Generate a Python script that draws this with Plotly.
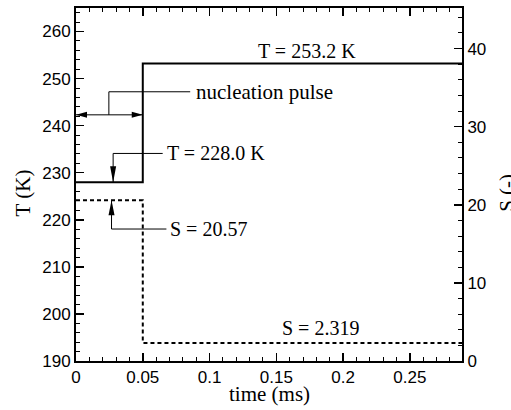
import plotly.graph_objects as go

# ---- data ----
t_T = [0.0, 0.05, 0.05, 0.289]
T_vals = [228.0, 228.0, 253.2, 253.2]
t_S = [0.0, 0.05, 0.05, 0.289]
S_vals = [20.57, 20.57, 2.319, 2.319]

x_tickvals = [0, 0.05, 0.1, 0.15, 0.2, 0.25]
x_ticktext = ["0", "0.05", "0.1", "0.15", "0.2", "0.25"]
T_tickvals = [190, 200, 210, 220, 230, 240, 250, 260]
S_tickvals = [0, 10, 20, 30, 40]

x_range = [0, 0.289]
T_range = [190, 265]
S_range = [0, 45.2]

# annotation anchors (data coords)
pulse_y = 242.3
pulse_leader = [(0.0246, 242.3), (0.0246, 247.2), (0.0855, 247.2)]
T1_leader = [(0.0278, 228.0), (0.0278, 234.1), (0.0649, 234.1)]
S1_leader = [(0.0266, 20.57), (0.0266, 16.9), (0.0677, 16.9)]

SERIF = "Liberation Serif, Times New Roman, serif"
SANS = "Liberation Sans, Arial, sans-serif"

fig = go.Figure()
fig.add_trace(go.Scatter(x=t_T, y=T_vals, mode="lines",
                         line=dict(color="black", width=2), showlegend=False, hoverinfo="skip"))
fig.add_trace(go.Scatter(x=t_S, y=S_vals, mode="lines", yaxis="y2",
                         line=dict(color="black", width=2, dash="4px,3px"), showlegend=False, hoverinfo="skip"))

def leader(pts, yaxis="y"):
    fig.add_trace(go.Scatter(x=[p[0] for p in pts], y=[p[1] for p in pts], mode="lines", yaxis=yaxis,
                             line=dict(color="black", width=1), showlegend=False, hoverinfo="skip"))

leader([(0.0, pulse_y), (0.05, pulse_y)])
leader(pulse_leader)
leader(T1_leader)
leader(S1_leader, "y2")

shapes = []
def head(x, y, path, yref="y"):
    shapes.append(dict(type="path", xref="x", yref=yref, xsizemode="pixel", ysizemode="pixel",
                       xanchor=x, yanchor=y, path=path, fillcolor="black", line=dict(width=0)))

head(0.0, pulse_y, "M0,0 L11,3 L11,-3 Z")
head(0.05, pulse_y, "M0,0 L-11,3 L-11,-3 Z")
head(T1_leader[0][0], T1_leader[0][1], "M0,0 L-3,16 L3,16 Z")
head(S1_leader[0][0], S1_leader[0][1], "M0,0 L-3,-15 L3,-15 Z", yref="y2")

ann_font = dict(family=SERIF, size=20, color="black")
title_font = dict(family=SERIF, size=21, color="black")
annotations = [
    dict(x=pulse_leader[-1][0], y=pulse_leader[-1][1], xref="x", yref="y", text="nucleation pulse",
         showarrow=False, xanchor="left", yanchor="middle", xshift=4,
         font=dict(family=SERIF, size=21, color="black")),
    dict(x=T1_leader[-1][0], y=T1_leader[-1][1], xref="x", yref="y", text="T = 228.0 K",
         showarrow=False, xanchor="left", yanchor="middle", xshift=2, font=ann_font),
    dict(x=S1_leader[-1][0], y=S1_leader[-1][1], xref="x", yref="y2", text="S = 20.57",
         showarrow=False, xanchor="left", yanchor="middle", xshift=2, font=ann_font),
    dict(x=0.173, y=255.9, xref="x", yref="y", text="T = 253.2 K",
         showarrow=False, xanchor="center", yanchor="middle", font=ann_font),
    dict(x=0.1833, y=4.2, xref="x", yref="y2", text="S = 2.319",
         showarrow=False, xanchor="center", yanchor="middle", font=ann_font),
    dict(x=-0.137, y=0.475, xref="paper", yref="paper", text="T (K)", textangle=-90,
         showarrow=False, xanchor="center", yanchor="middle", font=title_font),
    dict(x=1.118, y=0.475, xref="paper", yref="paper", text="S (-)", textangle=-90,
         showarrow=False, xanchor="center", yanchor="middle", font=title_font),
    dict(x=0.5, y=-0.094, xref="paper", yref="paper", text="time (ms)",
         showarrow=False, xanchor="center", yanchor="middle", font=title_font),
]

tickfont = dict(family=SANS, size=17, color="black")
minor_common = dict(ticks="inside", ticklen=4, tickwidth=1, tickcolor="black")
fig.update_layout(
    width=511, height=410,
    margin=dict(l=76, r=49, t=6, b=49),
    plot_bgcolor="white", paper_bgcolor="white",
    shapes=shapes, annotations=annotations,
    xaxis=dict(range=x_range, tickvals=x_tickvals, ticktext=x_ticktext, ticks="inside", ticklen=8,
               tickwidth=1.5, tickcolor="black", showline=True, linewidth=2, linecolor="black",
               mirror="ticks", showgrid=False, zeroline=False, tickfont=tickfont,
               minor=dict(dtick=0.01, **minor_common)),
    yaxis=dict(range=T_range, tickvals=T_tickvals, ticks="inside", ticklen=8, tickwidth=1.5,
               tickcolor="black", showline=True, linewidth=2, linecolor="black", showgrid=False,
               zeroline=False, tickfont=tickfont, minor=dict(dtick=2, **minor_common)),
    yaxis2=dict(range=S_range, tickvals=S_tickvals, overlaying="y", side="right", ticks="inside",
                ticklen=8, tickwidth=1.5, tickcolor="black", showline=True, linewidth=2,
                linecolor="black", showgrid=False, zeroline=False, tickfont=tickfont,
                minor=dict(dtick=2, **minor_common)),
)

fig.write_html("out.html", config={"displayModeBar": False, "staticPlot": True},
               post_script="document.body.style.margin='0';document.body.style.overflow='hidden';")
